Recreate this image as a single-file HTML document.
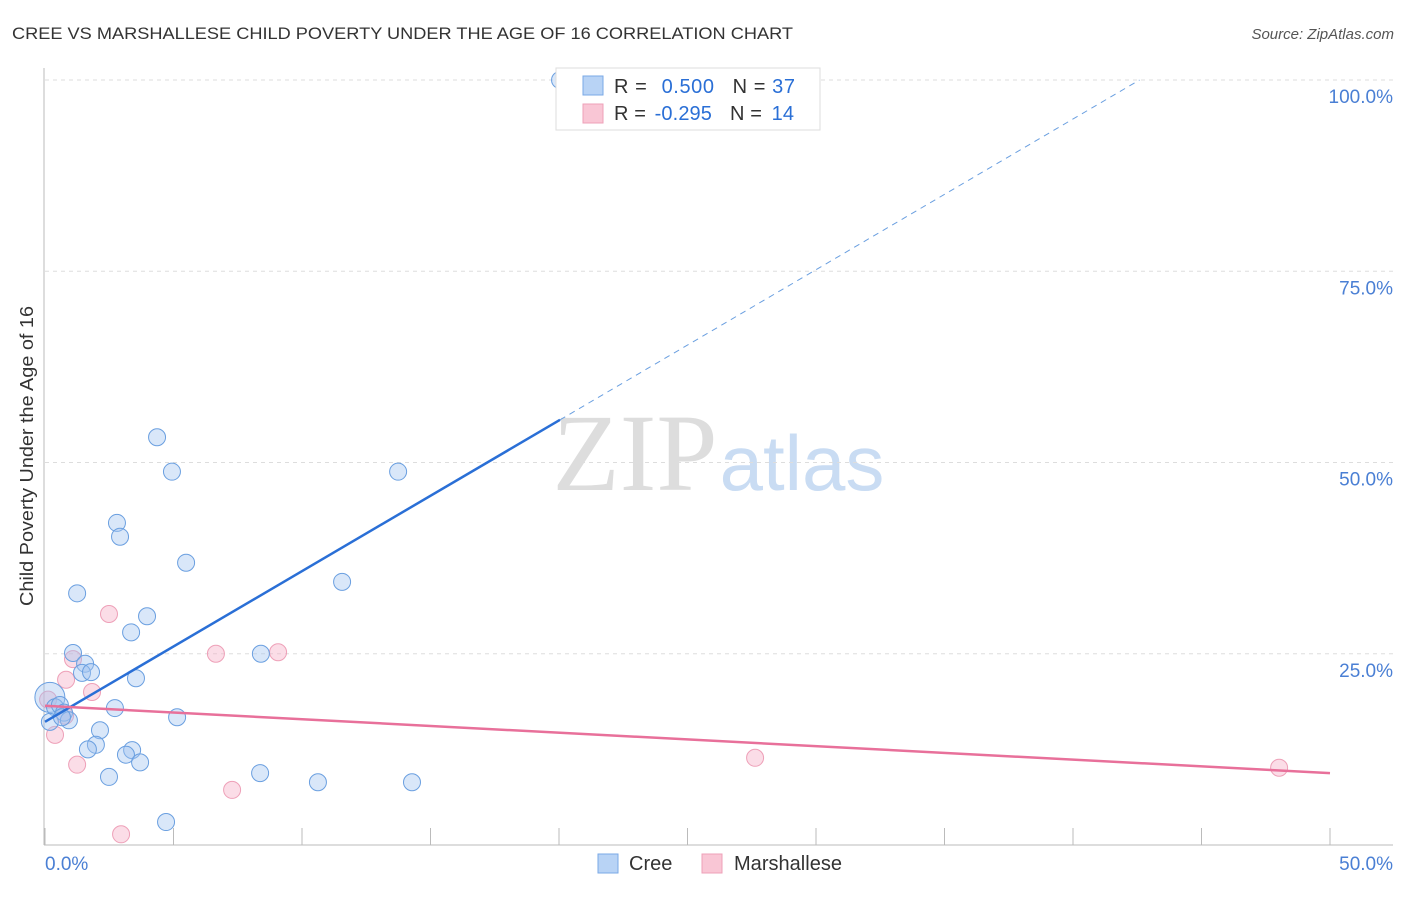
<!DOCTYPE html>
<html><head><meta charset="utf-8"><style>
body{margin:0;background:#fff;font-family:"Liberation Sans",sans-serif;}
</style></head><body>
<svg width="1406" height="892" xmlns="http://www.w3.org/2000/svg" font-family="Liberation Sans, sans-serif">
<text x="12" y="39" font-size="17" fill="#333" textLength="781" lengthAdjust="spacingAndGlyphs">CREE VS MARSHALLESE CHILD POVERTY UNDER THE AGE OF 16 CORRELATION CHART</text>
<text x="1394" y="39" font-size="15" fill="#555" text-anchor="end" font-style="italic">Source: ZipAtlas.com</text>
<text x="33" y="456" font-size="18" fill="#333" text-anchor="middle" textLength="300" lengthAdjust="spacingAndGlyphs" transform="rotate(-90 33 456)">Child Poverty Under the Age of 16</text>
<g>
<text x="635" y="490" font-size="110" fill="#ddd" font-family="Liberation Serif, serif" text-anchor="middle">ZIP</text>
<text x="802" y="490" font-size="78" fill="#c9dcf3" text-anchor="middle">atlas</text>
</g>
<g id="grid"></g>
<g id="axes"></g>
<g id="marks"></g>
<g>
<rect x="556" y="68" width="264" height="62" fill="#fff" stroke="#ddd"/>
<rect x="583" y="76" width="20" height="19" fill="#b8d3f5" stroke="#7aa8e6"/>
<rect x="583" y="104" width="20" height="19" fill="#f9c6d5" stroke="#eea0b8"/>
<text x="614" y="93" font-size="20" fill="#333" textLength="181" lengthAdjust="spacing">R = <tspan fill="#2a6fd6" dx="8">0.500</tspan><tspan dx="18" fill="#333">N = </tspan><tspan fill="#2a6fd6">37</tspan></text>
<text x="614" y="120" font-size="20" fill="#333" textLength="180" lengthAdjust="spacing">R = <tspan fill="#2a6fd6" dx="3">-0.295</tspan><tspan dx="18" fill="#333">N = </tspan><tspan fill="#2a6fd6" dx="4">14</tspan></text>
</g>
<g>
<rect x="598" y="854" width="20" height="19" fill="#b8d3f5" stroke="#7aa8e6"/>
<text x="629" y="870" font-size="20" fill="#333">Cree</text>
<rect x="702" y="854" width="20" height="19" fill="#f9c6d5" stroke="#eea0b8"/>
<text x="734" y="870" font-size="20" fill="#333" textLength="108">Marshallese</text>
</g>
</svg>
<script>
const creeX=[20.04,4.36,4.94,13.74,2.80,2.92,5.49,11.56,1.25,3.97,3.35,8.40,1.09,1.56,1.44,1.79,3.54,0.19,0.39,0.58,2.72,0.74,0.93,0.19,5.14,2.14,1.98,1.67,3.39,3.15,3.70,2.49,8.37,10.62,14.28,4.71,0.66];
const creeY=[100,53.3,48.8,48.8,42.1,40.3,36.9,34.4,32.9,29.9,27.8,25.0,25.1,23.7,22.5,22.6,21.8,19.3,18.0,18.3,17.9,17.3,16.3,16.1,16.7,15.0,13.1,12.5,12.4,11.8,10.8,8.9,9.4,8.2,8.2,3.0,16.7];
const marX=[2.49,6.65,9.07,1.09,0.82,1.83,0.12,0.78,0.39,1.25,7.28,2.96,27.63,48.02];
const marY=[30.2,25.0,25.2,24.3,21.6,20.0,19.0,16.9,14.4,10.5,7.2,1.4,11.4,10.1];
const yTicks=[25,50,75,100];
const yTickLabels=["25.0%","50.0%","75.0%","100.0%"];
const creeTrend=[16.1,1.97];
const marTrend=[18.2,-0.176];
const NS="http://www.w3.org/2000/svg";
const sx=v=>45+v*25.7, sy=v=>845-v*7.65;
function mk(t,a,p){const e=document.createElementNS(NS,t);for(const k in a)e.setAttribute(k,a[k]);document.getElementById(p).appendChild(e);return e;}
yTicks.forEach((t,i)=>{
 const l=mk('line',{x1:45,x2:1393,y1:sy(t),y2:sy(t),stroke:'#ddd','stroke-dasharray':'4,4'},'grid');
 
 
 const tx=mk('text',{x:1393,y:sy(t)+23,'font-size':19,fill:'#4a7fd4','text-anchor':'end'},'axes');
 tx.textContent=yTickLabels[i];
 
 
});
mk('line',{x1:44,x2:44,y1:68,y2:845,stroke:'#bbb'},'axes');
mk('line',{x1:44,x2:1393,y1:845,y2:845,stroke:'#bbb'},'axes');
for(let i=0;i<=10;i++){mk('line',{x1:sx(i*5),x2:sx(i*5),y1:828,y2:845,stroke:'#bbb'},'axes');}
let t0=mk('text',{x:45,y:870,'font-size':19,fill:'#4a7fd4'},'axes');t0.textContent='0.0%';


let t1=mk('text',{x:1393,y:870,'font-size':19,fill:'#4a7fd4','text-anchor':'end'},'axes');t1.textContent='50.0%';


marX.forEach((x,i)=>{const c=mk('circle',{cx:sx(x),cy:sy(marY[i]),r:8.5,fill:'rgba(245,170,195,0.4)',stroke:'#eea0b8'},'marks');
 
 });
creeX.forEach((x,i)=>{const c=mk('circle',{cx:sx(x),cy:sy(creeY[i]),r:i==17?15:8.5,fill:'rgba(160,196,240,0.4)',stroke:'#6a9fe0'},'marks');
 
 });
const cx2=20.04, cx3=(100-creeTrend[0])/creeTrend[1];
let l1=mk('line',{x1:sx(0),y1:sy(creeTrend[0]),x2:sx(cx2),y2:sy(creeTrend[0]+creeTrend[1]*cx2),stroke:'#2a6fd6','stroke-width':2.5},'marks');


let l2=mk('line',{x1:sx(cx2),y1:sy(creeTrend[0]+creeTrend[1]*cx2),x2:sx(cx3),y2:sy(100),stroke:'#6a9fe0','stroke-width':1,'stroke-dasharray':'6,5'},'marks');


let l3=mk('line',{x1:sx(0),y1:sy(marTrend[0]),x2:sx(50),y2:sy(marTrend[0]+marTrend[1]*50),stroke:'#e8709a','stroke-width':2.5},'marks');


</script>
</body></html>
